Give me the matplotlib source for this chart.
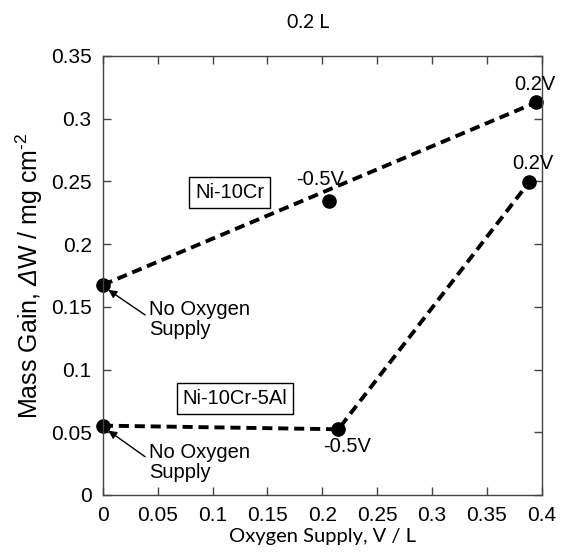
import matplotlib.pyplot as plt

# data
supply_cr = [0.0, 0.206, 0.395]          # Ni-10Cr, oxygen supply V / L
gain_cr = [0.1675, 0.234, 0.313]         # mass gain mg/cm2
supply_al = [0.0, 0.2146, 0.3885]        # Ni-10Cr-5Al
gain_al = [0.0553, 0.0524, 0.2494]
volt_cr = ['', '-0.5V', '0.2V']
volt_al = ['', '-0.5V', '0.2V']

plt.rcParams['font.family'] = ['Liberation Sans', 'DejaVu Sans']
plt.rcParams['mathtext.fontset'] = 'custom'
plt.rcParams['mathtext.rm'] = 'Liberation Sans'
plt.rcParams['mathtext.sf'] = 'Liberation Sans:italic'

fig = plt.figure(figsize=(5.62, 5.54), dpi=100)
ax = fig.add_axes([0.183, 0.1065, 0.781, 0.7925])

dash = (0, (2.6, 1.5))
# Ni-10Cr: dashed trend between the end points only
ax.plot([supply_cr[0], supply_cr[-1]], [gain_cr[0], gain_cr[-1]],
        color='black', lw=2.8, linestyle=dash)
ax.plot(supply_cr, gain_cr, 'o', color='black', ms=9.5, clip_on=False)
# Ni-10Cr-5Al
ax.plot(supply_al, gain_al, color='black', lw=2.8, linestyle=dash)
ax.plot(supply_al, gain_al, 'o', color='black', ms=9.5, clip_on=False)

fs = 14.5
ax.text(0.198, 0.2512, volt_cr[1], fontsize=fs, ha='center', va='center')
ax.text(0.3937, 0.327, volt_cr[2], fontsize=fs, ha='center', va='center')
ax.text(0.2222, 0.0385, volt_al[1], fontsize=fs, ha='center', va='center')
ax.text(0.3916, 0.2645, volt_al[2], fontsize=fs, ha='center', va='center')

box = dict(boxstyle='square,pad=0.3', fc='white', ec='black', lw=1)
ax.text(0.1157, 0.2412, 'Ni-10Cr', fontsize=fs, ha='center', va='center', bbox=box)
ax.text(0.1205, 0.0766, 'Ni-10Cr-5Al', fontsize=fs, ha='center', va='center', bbox=box)

arrow = dict(arrowstyle='-|>', color='black', lw=1, mutation_scale=12, shrinkA=0, shrinkB=0)
ax.annotate('', xy=(0.0051, 0.1635), xytext=(0.0385, 0.1435), arrowprops=arrow)
ax.text(0.0424, 0.1555, 'No Oxygen\nSupply', fontsize=fs, ha='left', va='top', linespacing=1.1)
ax.annotate('', xy=(0.0051, 0.0513), xytext=(0.0385, 0.0305), arrowprops=arrow)
ax.text(0.0424, 0.0415, 'No Oxygen\nSupply', fontsize=fs, ha='left', va='top', linespacing=1.1)

ax.set_xlim(0, 0.4)
ax.set_ylim(0, 0.35)
ax.set_xticks([0, 0.05, 0.1, 0.15, 0.2, 0.25, 0.3, 0.35, 0.4])
ax.set_xticklabels(['0', '0.05', '0.1', '0.15', '0.2', '0.25', '0.3', '0.35', '0.4'])
ax.set_yticks([0, 0.05, 0.1, 0.15, 0.2, 0.25, 0.3, 0.35])
ax.set_yticklabels(['0', '0.05', '0.1', '0.15', '0.2', '0.25', '0.3', '0.35'])
ax.tick_params(direction='in', length=6, width=1, color='#444444',
               top=True, right=True, labelsize=15, pad=8)
for s in ax.spines.values():
    s.set_color('#444444')
    s.set_linewidth(1)

ax.set_ylabel(r'Mass Gain, $\mathsf{\Delta}$W / mg cm$^{\text{-}2}$', fontsize=18, labelpad=4)
ax.set_xlabel('Oxygen Supply, V / L', fontsize=14.5, family='Lato', labelpad=2)
fig.text(0.548, 0.96, '0.2 L', fontsize=14, family='Lato', ha='center', va='center')

fig.savefig('out.png', dpi=100)
